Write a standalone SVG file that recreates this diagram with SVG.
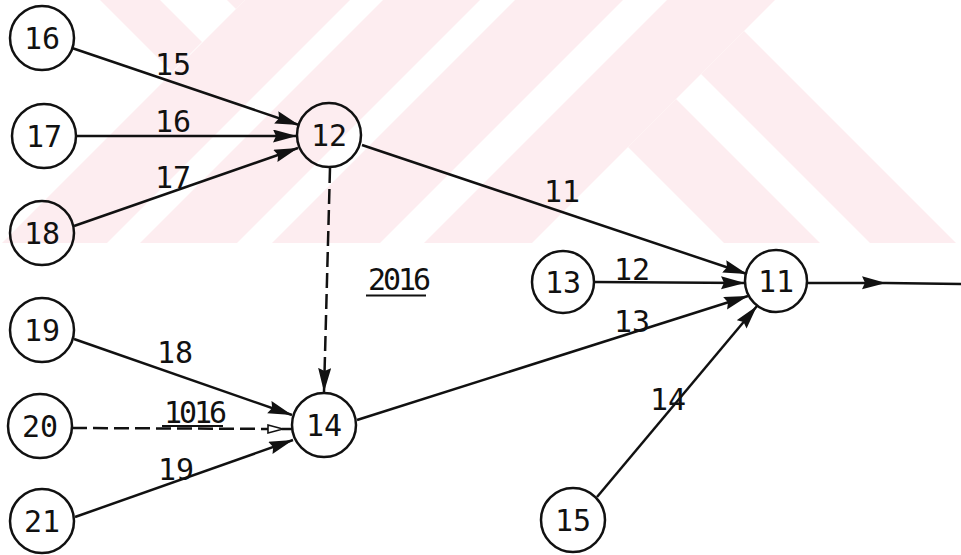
<svg xmlns="http://www.w3.org/2000/svg" width="961" height="555" viewBox="0 0 961 555">
<defs>
<marker id="ah" markerUnits="userSpaceOnUse" markerWidth="26" markerHeight="14" refX="24" refY="6.5" orient="auto"><path d="M0,0 L24,6.5 L0,13 L3,6.5 Z" fill="#111"/></marker>
<marker id="open" markerUnits="userSpaceOnUse" markerWidth="18" markerHeight="11" refX="16" refY="5.5" orient="auto"><path d="M1,1.5 L16,5.5 L1,9.5 Z" fill="#fff" stroke="#111" stroke-width="1.6"/></marker>
</defs>
<style>
.wm{fill:#fdedf0}
.n circle{fill:none;stroke:#111;stroke-width:2.5}
.n text,.lbl{font-family:"DejaVu Sans Mono","Liberation Mono",monospace;font-size:30px;fill:#111;text-anchor:middle}
.tight{letter-spacing:-3px}
.e{stroke:#111;stroke-width:2.5;fill:none}
.a{marker-end:url(#ah)}
.d{stroke-dasharray:15 6}
.ul{stroke:#111;stroke-width:2}
</style>
<rect width="961" height="555" fill="#fff"/>
<g id="watermark">
<polygon class="wm" points="245,0 350,0 107,243 2,243"/>
<polygon class="wm" points="383,0 480,0 237,243 140,243"/>
<polygon class="wm" points="515,0 623,0 380,243 272,243"/>
<polygon class="wm" points="667,0 775,0 532,243 424,243"/>
<polygon class="wm" points="744,31 956,243 870,243 701,74"/>
<polygon class="wm" points="676,99 820,243 724,243 628,147"/>
<polygon class="wm" points="227,0 245,0 236,9"/>
<polygon class="wm" points="100,0 160,0 202,42 172,72"/>
</g>
<g id="connectors">
<path class="e a" d="M72,48 L299,125"/>
<path class="e a" d="M76,136 L297,136"/>
<path class="e a" d="M74,226 L298,148"/>
<path class="e a" d="M362,145 L747,274"/>
<path class="e a d" d="M330,168 L324,392"/>
<path class="e a" d="M74,339 L292,415"/>
<path class="e d" d="M72,428 L283,429 L292,429" marker-mid="url(#open)"/>
<path class="e a" d="M75,517 L293,440"/>
<path class="e a" d="M594,282 L745,283"/>
<path class="e a" d="M357,420 L748,296"/>
<path class="e a" d="M597,497 L757,306"/>
<path class="e" d="M807,283 L886,283 L961,284" marker-mid="url(#ah)"/>
</g>
<g id="labels">
<text class="lbl" x="173" y="75">15</text>
<text class="lbl" x="173" y="132">16</text>
<text class="lbl" x="173" y="188">17</text>
<text class="lbl" x="562" y="202">11</text>
<text class="lbl" x="632" y="280">12</text>
<text class="lbl" x="632" y="332">13</text>
<text class="lbl" x="668" y="410">14</text>
<text class="lbl tight" x="398" y="290">2016</text>
<line class="ul" x1="366" y1="295.5" x2="426" y2="295.5"/>
<text class="lbl" x="175" y="363">18</text>
<text class="lbl tight" x="194" y="423">1016</text>
<line class="ul" x1="162" y1="426" x2="223" y2="426"/>
<text class="lbl" x="176" y="480">19</text>
</g>
<g id="node16" class="n"><circle cx="42" cy="38" r="32"/><text x="42" y="49">16</text></g>
<g id="node17" class="n"><circle cx="44" cy="136" r="32"/><text x="44" y="147">17</text></g>
<g id="node18" class="n"><circle cx="42" cy="233" r="32"/><text x="42" y="244">18</text></g>
<g id="node12" class="n"><circle cx="329" cy="135" r="32"/><text x="329" y="146">12</text></g>
<g id="node19" class="n"><circle cx="42" cy="330" r="32"/><text x="42" y="341">19</text></g>
<g id="node20" class="n"><circle cx="40" cy="426" r="32"/><text x="40" y="437">20</text></g>
<g id="node21" class="n"><circle cx="42" cy="521" r="32"/><text x="42" y="532">21</text></g>
<g id="node14" class="n"><circle cx="324" cy="425" r="32"/><text x="324" y="436">14</text></g>
<g id="node13" class="n"><circle cx="563" cy="282" r="31"/><text x="563" y="293">13</text></g>
<g id="node11" class="n"><circle cx="776" cy="281" r="31"/><text x="776" y="292">11</text></g>
<g id="node15" class="n"><circle cx="573" cy="520" r="32"/><text x="573" y="531">15</text></g>
</svg>
